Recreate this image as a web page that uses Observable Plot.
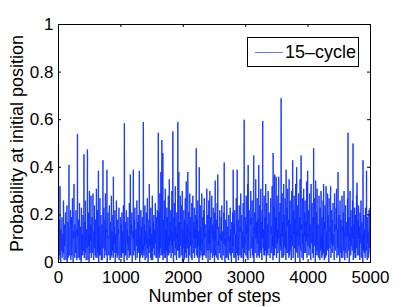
<!DOCTYPE html>
<html><head><meta charset="utf-8">
<script src="https://cdn.jsdelivr.net/npm/d3@7"></script>
<script src="https://cdn.jsdelivr.net/npm/@observablehq/plot@0.6"></script>
<style>
body{margin:0;background:#fff;}
#wrap{position:relative;width:409px;height:307px;font-family:"Liberation Sans",Arial,sans-serif;}
#legend{position:absolute;left:247px;top:37px;width:110px;height:28px;border:1px solid #000;background:#fff;display:flex;align-items:center;font-size:18px;color:#000;}
#legend .sw{display:inline-block;width:28px;height:1px;background:#6677ff;margin-left:7px;margin-right:2px;}
</style></head>
<body><div id="wrap"></div>
<script>
const stepSize = 8; // sampling interval (steps) of the series below
const seriesName = "15–cycle";
const xTicks = [0, 1000, 2000, 3000, 4000, 5000];
const yTicks = [0, 0.2, 0.4, 0.6, 0.8, 1];
const xLabel = "Number of steps";
const yLabel = "Probability at initial position";
// values at steps 0, 8, 16, ... 5000
const prob = [
.50,.02,.18,.32,.01,.14,.05,.19,.03,.12,.26,.02,.16,.08,.21,.01,.13,.24,.04,.17,.06,.41,.03,.15,.22,
.02,.19,.09,.27,.01,.13,.33,.04,.16,.07,.22,.03,.14,.54,.02,.18,.11,.25,.01,.15,.06,.23,.03,.12,.20,
.05,.455,.02,.17,.26,.03,.14,.09,.475,.01,.21,.12,.30,.04,.16,.28,.02,.19,.07,.29,.03,.13,.24,.05,.18,
.02,.31,.10,.22,.04,.385,.15,.03,.27,.08,.20,.01,.16,.05,.43,.12,.23,.02,.18,.29,.06,.14,.39,.03,.21,
.11,.03,.24,.09,.17,.02,.28,.13,.05,.20,.36,.04,.15,.22,.01,.12,.26,.07,.18,.03,.14,.23,.05,.10,.19,
.02,.16,.21,.04,.12,.24,.06,.585,.03,.17,.09,.22,.02,.14,.19,.05,.11,.25,.03,.37,.08,.16,.21,.04,.13,
.39,.06,.18,.23,.02,.14,.09,.26,.03,.17,.20,.05,.385,.11,.02,.22,.15,.04,.19,.08,.59,.03,.16,.24,.06,
.13,.21,.02,.27,.10,.04,.18,.33,.07,.15,.23,.01,.12,.28,.05,.17,.20,.03,.14,.25,.08,.19,.02,.22,.11,
.545,.04,.21,.29,.06,.38,.12,.515,.03,.46,.18,.09,.26,.02,.31,.14,.05,.23,.19,.03,.28,.11,.35,.04,.17,
.22,.06,.30,.13,.55,.02,.19,.25,.07,.32,.15,.03,.21,.12,.59,.05,.38,.17,.02,.28,.10,.24,.04,.30,.14,
.06,.22,.18,.02,.27,.11,.34,.05,.16,.38,.08,.21,.03,.29,.13,.19,.02,.25,.09,.28,.04,.17,.23,.06,.14,
.20,.48,.03,.18,.26,.07,.13,.40,.02,.24,.15,.05,.29,.10,.19,.03,.22,.27,.06,.16,.12,.02,.31,.09,.20,
.04,.26,.14,.30,.02,.19,.11,.28,.05,.16,.23,.03,.13,.21,.345,.07,.18,.02,.25,.37,.09,.15,.04,.22,.12,
.02,.19,.24,.06,.13,.03,.21,.42,.05,.10,.18,.02,.26,.08,.15,.03,.20,.11,.04,.23,.14,.02,.17,.09,.21,
.39,.04,.16,.22,.02,.12,.27,.06,.39,.03,.18,.10,.24,.05,.15,.29,.02,.20,.13,.07,.25,.03,.60,.11,.19,
.05,.28,.16,.02,.33,.41,.08,.22,.13,.03,.30,.19,.06,.26,.11,.02,.45,.15,.21,.04,.35,.12,.07,.27,.18,
.03,.41,.10,.24,.05,.31,.17,.02,.22,.595,.06,.14,.28,.03,.19,.33,.09,.25,.04,.16,.30,.07,.21,.12,.02,
.27,.15,.05,.32,.11,.46,.03,.24,.37,.08,.19,.36,.02,.28,.14,.06,.36,.21,.03,.25,.12,.69,.05,.29,.17,
.02,.33,.20,.07,.27,.13,.39,.04,.23,.31,.09,.18,.35,.03,.26,.15,.06,.30,.11,.43,.02,.22,.28,.08,.17,
.33,.05,.40,.14,.24,.03,.29,.10,.19,.35,.06,.45,.16,.02,.27,.12,.31,.04,.21,.26,.08,.17,.34,.03,.385,
.12,.22,.05,.29,.16,.02,.33,.10,.25,.04,.19,.48,.07,.27,.13,.345,.03,.21,.31,.09,.16,.02,.28,.14,.23,
.05,.30,.11,.19,.03,.26,.33,.08,.17,.24,.02,.32,.13,.06,.29,.20,.04,.27,.15,.09,.32,.03,.22,.18,.06,
.25,.12,.02,.29,.16,.07,.23,.31,.04,.14,.38,.09,.20,.03,.26,.11,.18,.02,.28,.15,.06,.21,.30,.04,.13,
.24,.08,.17,.02,.27,.545,.05,.19,.12,.30,.03,.22,.14,.07,.26,.50,.04,.16,.23,.02,.20,.11,.28,.335,.06,
.18,.24,.03,.15,.21,.09,.26,.02,.17,.12,.43,.05,.20,.14,.03,.23,.10,.385,.04,.19,.13,.02,.22,.08,.23,
.15
];
// values at the in-between steps 4, 12, 20, ... (the dense low band)
const probMid = [
.01,.08,.03,.11,.00,.06,.14,.02,.09,.04,.12,.01,.07,.10,.03,.05,.13,.00,.08,.02,.11,.04,.06,.15,.01,
.09,.03,.12,.05,.00,.10,.07,.02,.13,.04,.08,.01,.11,.06,.03,.14,.02,.09,.05,.12,.00,.07,.10,.03,.06,
.12,.02,.08,.04,.16,.01,.10,.06,.03,.11,.07,.00,.13,.05,.09,.02,.12,.04,.08,.15,.01,.06,.11,.03,.09,
.05,.13,.02,.08,.11,.00,.07,.14,.03,.10,.04,.09,.01,.12,.06,.17,.02,.08,.05,.11,.03,.13,.00,.07,.10,
.04,.09,.12,.01,.06,.15,.03,.10,.07,.02,.13,.05,.08,.00,.11,.04,.14,.02,.09,.06,.12,.01,.07,.10,.03,
.11,.02,.07,.13,.04,.09,.00,.12,.06,.03,.10,.14,.01,.08,.05,.11,.02,.16,.07,.03,.09,.12,.00,.06,.10,
.03,.12,.05,.08,.01,.14,.07,.02,.10,.04,.13,.06,.00,.09,.11,.03,.08,.15,.02,.05,.12,.04,.07,.01,.10,
.08,.03,.13,.06,.00,.11,.04,.09,.14,.02,.07,.12,.05,.01,.10,.06,.13,.03,.08,.16,.02,.09,.04,.11,.00,
.06,.10,.02,.14,.07,.03,.12,.05,.09,.01,.13,.04,.17,.08,.02,.11,.06,.00,.10,.14,.03,.07,.12,.05,.09,
.02,.11,.07,.04,.13,.00,.09,.15,.03,.06,.12,.01,.10,.05,.08,.14,.02,.11,.04,.07,.16,.03,.09,.00,.12,
.07,.01,.10,.13,.04,.08,.02,.12,.06,.15,.00,.09,.03,.11,.07,.05,.14,.01,.08,.12,.04,.10,.02,.13,.06,
.10,.04,.14,.02,.07,.11,.00,.09,.13,.05,.03,.12,.08,.01,.15,.06,.10,.03,.07,.11,.02,.14,.05,.09,.00,
.13,.05,.08,.01,.11,.04,.16,.07,.02,.10,.06,.13,.00,.09,.03,.12,.05,.08,.14,.01,.07,.11,.04,.10,.02,
.05,.09,.01,.11,.06,.03,.08,.12,.00,.07,.04,.10,.02,.13,.06,.01,.09,.05,.11,.03,.08,.00,.12,.04,.07,
.09,.02,.12,.05,.08,.00,.11,.04,.14,.06,.01,.10,.07,.03,.13,.05,.09,.02,.12,.06,.00,.11,.04,.08,.15,
.03,.12,.07,.15,.01,.10,.05,.13,.08,.02,.16,.06,.11,.03,.09,.14,.00,.12,.07,.04,.10,.17,.02,.08,.13,
.06,.14,.02,.11,.08,.04,.15,.01,.10,.07,.13,.03,.09,.16,.05,.12,.00,.08,.14,.03,.11,.06,.17,.02,.09,
.12,.04,.16,.07,.01,.13,.09,.03,.15,.06,.11,.02,.18,.08,.04,.14,.10,.00,.13,.07,.05,.16,.02,.11,.08,
.14,.03,.10,.17,.06,.01,.12,.08,.15,.04,.11,.02,.13,.09,.05,.16,.01,.10,.07,.14,.03,.12,.06,.18,.00,
.08,.15,.04,.11,.02,.13,.07,.16,.00,.10,.05,.14,.03,.12,.08,.01,.15,.06,.11,.04,.13,.09,.02,.16,.07,
.11,.03,.14,.06,.10,.01,.15,.08,.04,.13,.02,.11,.07,.16,.00,.09,.12,.05,.14,.03,.10,.06,.15,.01,.08,
.13,.06,.02,.11,.15,.04,.09,.01,.14,.07,.12,.03,.10,.16,.05,.08,.00,.13,.06,.11,.02,.15,.08,.04,.12,
.07,.10,.01,.13,.05,.09,.14,.02,.11,.06,.03,.12,.08,.00,.15,.04,.10,.07,.13,.02,.09,.05,.12,.01,.11,
.04,.13,.08,.02,.11,.06,.14,.00,.09,.12,.03,.07,.15,.05,.10,.01,.13,.04,.08,.11,.02,.14,.06,.09,.03,
.10,.05,.12,.01,.08,.14,.03,.11,.06,.00,.09,.13,.04,.07,.02,.12,.05,.10,.01,.08,.11,.03,.06,.09,.04
];
const data = [];
prob.forEach((p, i) => {
  data.push({step: i * stepSize, p});
  if (i < probMid.length && i * stepSize + stepSize / 2 < 5000) data.push({step: i * stepSize + stepSize / 2, p: probMid[i]});
});
// consecutive pairs so that overlapping strokes build up like the dense original
const segs = d3.pairs(data).map(([a, b]) => ({s1: a.step, p1: a.p, s2: b.step, p2: b.p}));
const fmt = d => String(d);

const chart = Plot.plot({
  width: 409, height: 307,
  marginLeft: 58, marginRight: 39, marginTop: 24, marginBottom: 45,
  style: {fontFamily: '"Liberation Sans", Arial, sans-serif', fontSize: "17px", color: "#000", background: "#fff"},
  x: {domain: [0, 5000]},
  y: {domain: [0, 1]},
  marks: [
    Plot.link(segs, {x1: "s1", y1: "p1", x2: "s2", y2: "p2", stroke: "#0a2cff", strokeOpacity: 0.72, strokeWidth: 1.25}),
    Plot.frame({stroke: "#000"}),
    Plot.tickX(xTicks, {x: d => d, insetTop: 235, stroke: "#000"}),
    Plot.tickX(xTicks, {x: d => d, insetBottom: 235, stroke: "#000"}),
    Plot.tickY(yTicks, {y: d => d, insetLeft: 309, stroke: "#000"}),
    Plot.tickY(yTicks, {y: d => d, insetRight: 309, stroke: "#000"}),
    Plot.axisX({ticks: xTicks, tickSize: 0, tickPadding: 8, tickFormat: fmt, label: null, fontSize: 17}),
    Plot.axisY({ticks: yTicks, tickSize: 0, tickPadding: 5, tickFormat: fmt, label: null, fontSize: 17}),
    Plot.text([xLabel], {text: d => d, frameAnchor: "bottom", lineAnchor: "middle", textAnchor: "middle", dy: 34, fontSize: 18}),
    Plot.text([yLabel], {text: d => d, frameAnchor: "left", lineAnchor: "middle", textAnchor: "middle", dx: -41, rotate: -90, fontSize: 18})
  ]
});
const wrap = document.getElementById("wrap");
wrap.appendChild(chart);
const legend = document.createElement("div");
legend.id = "legend";
legend.innerHTML = '<span class="sw"></span><span></span>';
legend.lastChild.textContent = seriesName;
wrap.appendChild(legend);
</script>
</body></html>
